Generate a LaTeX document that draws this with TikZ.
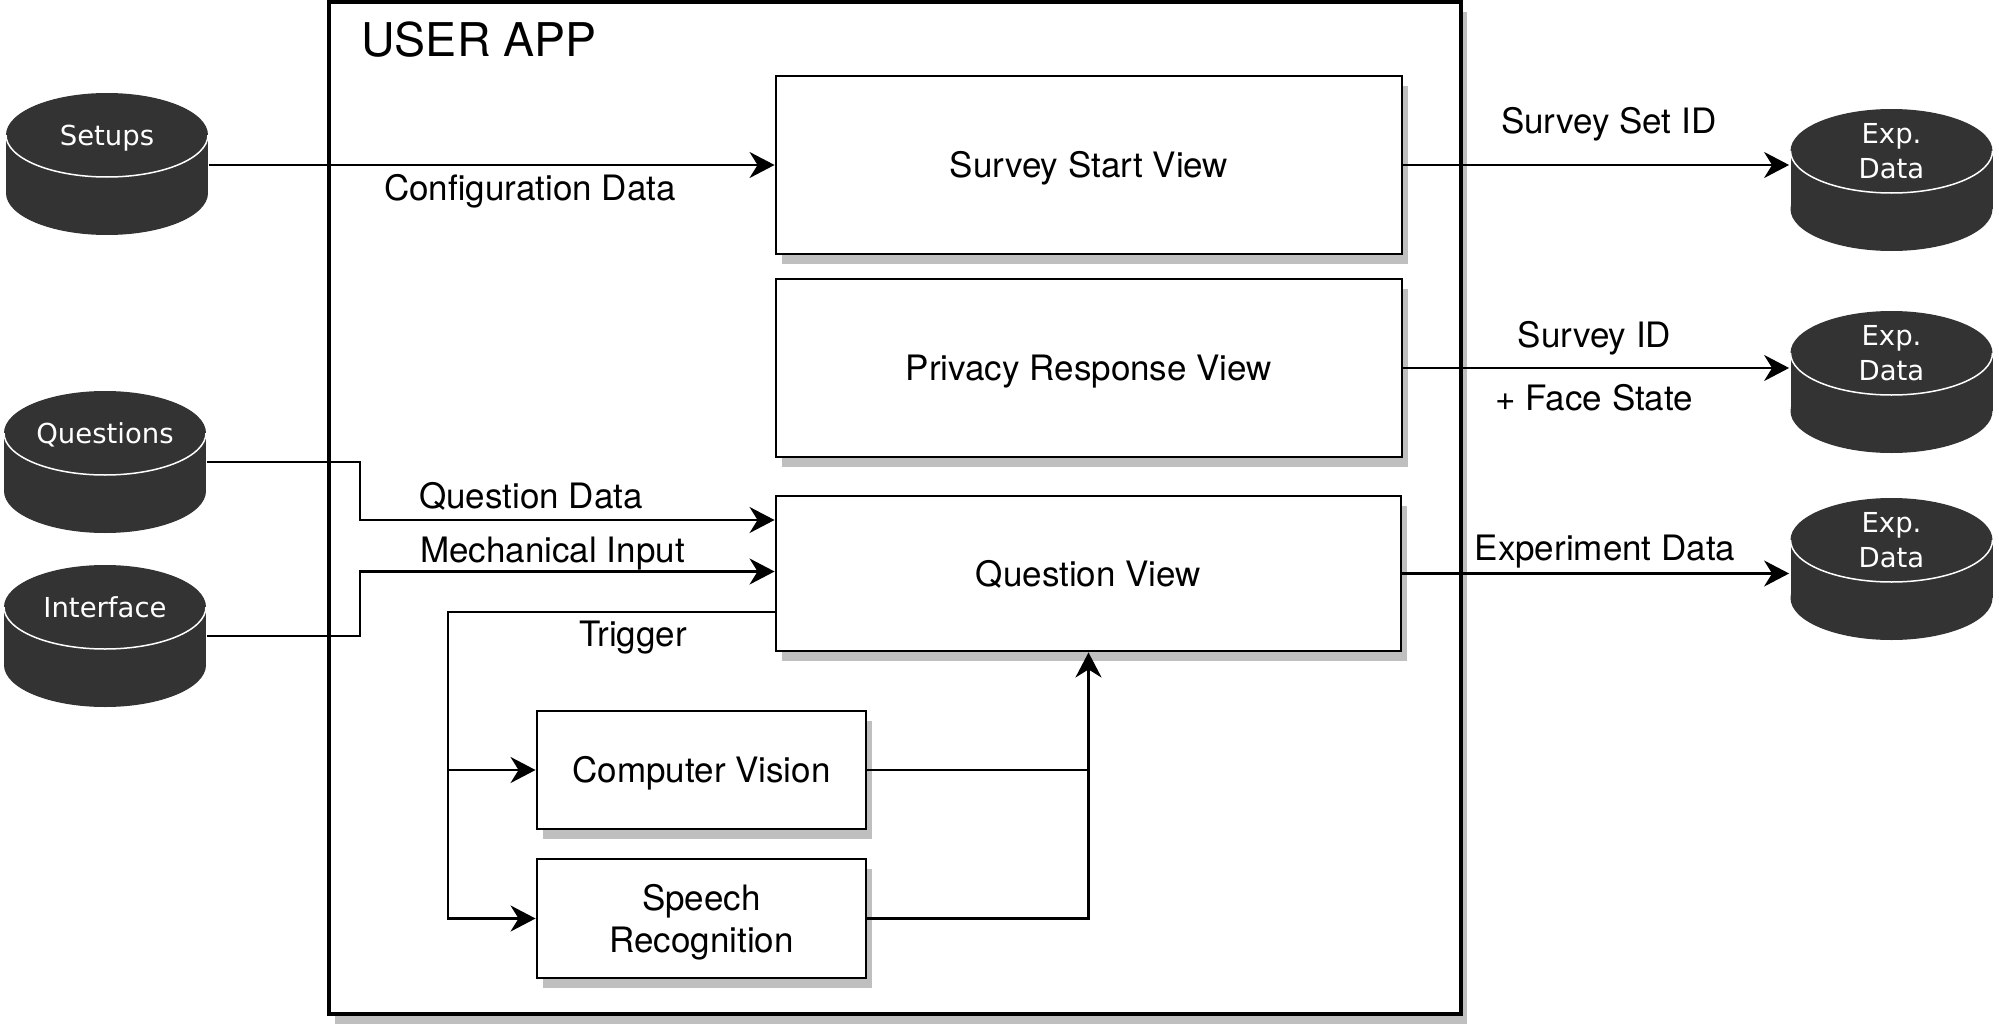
\documentclass[tikz,border=0pt]{standalone}
\usepackage{fontspec}
\setmainfont{TeX Gyre Heros}
\newfontfamily\cylfont{DejaVu Sans}
\usetikzlibrary{arrows.meta,calc,shadows}
\definecolor{cyldark}{HTML}{333333}
\definecolor{shadowgray}{HTML}{BFBFBF}
\tikzset{
  lbl/.style={font=\fontsize{17.5}{21}\selectfont, inner sep=0pt},
  viewbox/.style={draw=black, line width=1.45pt, fill=white, inner sep=0pt,
     drop shadow={shadow xshift=3pt, shadow yshift=-5pt, fill=shadowgray, opacity=1},
     font=\fontsize{17.5}{20.85}\selectfont, align=center},
  onetext/.style={text height=12.57pt, text depth=0pt},
  cylanchor/.style={minimum width=102pt, minimum height=71pt, inner sep=0pt},
  cyltext/.style={font=\cylfont\fontsize{13.75}{17.3}\selectfont, text=white, inner sep=0pt, align=center},
  cylone/.style={cyltext, text height=10pt, text depth=0pt},
  conn/.style={line width=1.3pt, draw=black},
  arr/.style={conn, -{Stealth[length=12.5pt,width=13pt,inset=4pt]}},
}
% name, cx, top
\newcommand{\dbcyl}[3]{%
  \fill[cyldark] (#2,#3+42) ellipse [x radius=101, y radius=42];
  \fill[cyldark] (#2,#3+100) ellipse [x radius=101, y radius=42];
  \fill[cyldark] (#2-101,#3+42) rectangle (#2+101,#3+100);
  \begin{scope}
    \clip (#2-104,#3+42) rectangle (#2+104,#3+90);
    \draw[white, line width=0.75pt] (#2,#3+42) ellipse [x radius=101, y radius=42];
  \end{scope}
  \node[cylanchor] (#1) at (#2,#3+71) {};
}
\begin{document}
\begin{tikzpicture}[x=0.5pt, y=-0.5pt]
\useasboundingbox (0,0) rectangle (1999,1028);

% outer container
\node[viewbox, line width=1.6pt, minimum width=566pt, minimum height=506pt] (app) at (895,508) {};
\node[font=\fontsize{23.25}{28}\selectfont, anchor=base west, inner sep=0pt] (title) at (361,56) {USER APP};

% views
\node[viewbox, onetext, minimum width=313pt, minimum height=89pt] (ssv) at (1089,165) {Survey Start View};
\node[viewbox, onetext, minimum width=313pt, minimum height=89pt] (prv) at (1089,368) {Privacy Response View};
\node[viewbox, onetext, minimum width=312.5pt, minimum height=77.5pt] (qv) at (1088.5,573.5) {Question View};
\node[viewbox, onetext, minimum width=164.5pt, minimum height=59pt] (cv) at (701.5,770) {Computer Vision};
\node[viewbox, minimum width=164.5pt, minimum height=59.5pt] (sr) at (701.5,918.5) {Speech\\\raisebox{0pt}[\height][0pt]{Recognition}};

% data stores
\dbcyl{setups}{107}{93}
\node[cylone] (setups-t) at (107,135) {Setups};
\dbcyl{questions}{105}{391}
\node[cylone] (questions-t) at (105,433) {Questions};
\dbcyl{interface}{105}{565}
\node[cylone] (interface-t) at (105,607) {Interface};
\dbcyl{exp1}{1891.5}{109}
\node[cyltext] (exp1-t) at (1891.5,151) {Exp.\\Data};
\dbcyl{exp2}{1891.5}{311}
\node[cyltext] (exp2-t) at (1891.5,353) {Exp.\\Data};
\dbcyl{exp3}{1891.5}{498}
\node[cyltext] (exp3-t) at (1891.5,540) {Exp.\\Data};

% helper coordinates
\coordinate (bend) at (360,0);
\coordinate (trunk) at (448,0);
\coordinate (qv-in1) at ($(qv.west)+(0,-53.5)$);
\coordinate (qv-in2) at ($(qv.west)+(0,-2)$);
\coordinate (qv-out) at ($(qv.west)+(0,38.5)$);

% connectors
\draw[arr] (ssv.west -| setups.east) -- (ssv.west);
\draw[arr] (ssv.east) -- (ssv.east -| exp1.west);
\draw[arr] (prv.east) -- (prv.east -| exp2.west);
\draw[arr] (qv.east) -- (qv.east -| exp3.west);
\draw[arr] (questions.east) -- (questions.east -| bend) |- (qv-in1);
\draw[arr] (interface.east) -- (interface.east -| bend) |- (qv-in2);
\draw[arr] (qv-out) -- (qv-out -| trunk) |- (sr.west);
\draw[arr] (cv.west -| trunk) -- (cv.west);
\draw[arr] (cv.east) -- (cv.east -| qv.south) -- (qv.south);
\draw[conn] (sr.east) -- (sr.east -| qv.south) -- (cv.east -| qv.south);

% labels
\node[lbl, anchor=base] (l-conf) at (530,200) {Configuration Data};
\node[lbl, anchor=base] (l-ssid) at (1608.7,133.6) {Survey Set ID};
\node[lbl, anchor=base] (l-sid) at (1594.5,347.7) {Survey ID};
\node[lbl, anchor=base] (l-face) at (1594.3,410.8) {+ Face State};
\node[lbl, anchor=base] (l-qd) at (531,508) {Question Data};
\node[lbl, anchor=base] (l-mi) at (552.5,562) {Mechanical Input};
\node[lbl, anchor=base] (l-trig) at (633,646) {Trigger};
\node[lbl, anchor=base] (l-exp) at (1605,560.5) {Experiment Data};
\end{tikzpicture}
\end{document}
